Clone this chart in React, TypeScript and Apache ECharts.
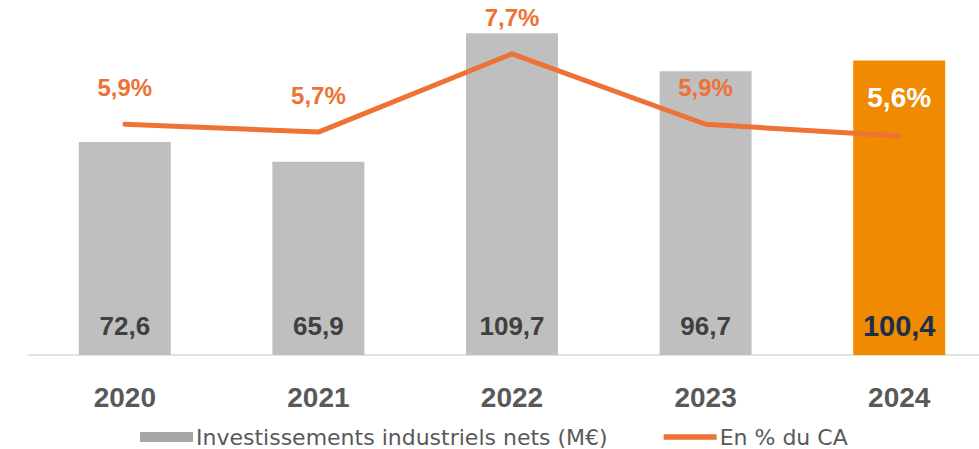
import React, { useEffect, useRef } from "react";
import * as echarts from "echarts";

const categories = ["2020", "2021", "2022", "2023", "2024"];
const investValues = [72.6, 65.9, 109.7, 96.7, 100.4];
const pctValues = [5.9, 5.7, 7.7, 5.9, 5.6];
const barName = "Investissements industriels nets (M€)";
const lineName = "En % du CA";

const fmt = (v: number) => v.toFixed(1).replace(".", ",");

export default function App() {
  const ref = useRef<HTMLDivElement>(null);
  useEffect(() => {
    if (!ref.current) return;
    const chart = echarts.init(ref.current, null, { renderer: "svg" });
    const last = categories.length - 1;
    chart.setOption({
      animation: false,
      grid: { left: 28, top: 3, width: 968, height: 352, containLabel: false },
      legend: {
        left: 135,
        top: 421,
        itemGap: 56,
        itemWidth: 53,
        itemHeight: 10,
        textStyle: { fontFamily: "DejaVu Sans", fontSize: 22, color: "#595959", padding: [0, 0, 0, -2] },
        data: [
          { name: barName, icon: "rect", itemStyle: { color: "#A6A6A6" } },
          { name: lineName, icon: "path://M0,0 L10,0 L10,1 L0,1 Z" },
        ],
      },
      xAxis: {
        type: "category",
        data: categories,
        axisTick: { show: false },
        axisLine: { lineStyle: { color: "#D9D9D9", width: 1.5 } },
        axisLabel: {
          color: "#595959",
          fontFamily: "Liberation Sans",
          fontWeight: "bold",
          fontSize: 28,
          margin: 28,
        },
      },
      yAxis: [
        { type: "value", min: 0, max: 120, show: false, splitLine: { show: false } },
        { type: "value", min: 0, max: 9, show: false, splitLine: { show: false } },
      ],
      series: [
        {
          name: barName,
          type: "bar",
          barWidth: 92,
          yAxisIndex: 0,
          data: investValues.map((v, i) => ({
            value: v,
            itemStyle: { color: i === last ? "#F08A00" : "#BFBFBF" },
            label: {
              show: true,
              position: "insideBottom",
              distance: i === last ? 15 : 16,
              formatter: fmt(v),
              fontFamily: "Liberation Sans",
              fontWeight: "bold",
              fontSize: i === last ? 29 : 26,
              color: i === last ? "#1B2F4B" : "#404040",
            },
          })),
        },
        {
          name: lineName,
          type: "line",
          yAxisIndex: 1,
          symbol: "circle",
          symbolSize: 1,
          showSymbol: true,
          lineStyle: { color: "#ED7234", width: 5, cap: "round", join: "round" },
          itemStyle: { color: "#ED7234" },
          data: pctValues.map((v, i) => ({
            value: v,
            label: {
              show: true,
              position: "top",
              distance: 24,
              formatter: fmt(v) + "%",
              fontFamily: "Liberation Sans",
              fontWeight: "bold",
              fontSize: i === last ? 28 : 24,
              color: i === last ? "#FFFFFF" : "#ED7234",
            },
          })),
        },
      ],
    });
    return () => chart.dispose();
  }, []);
  return (
    <div style={{ width: 979, height: 449, position: "absolute", left: 0, top: 0, overflow: "hidden" }}>
      <div ref={ref} style={{ width: 1000, height: 449 }} />
    </div>
  );
}
